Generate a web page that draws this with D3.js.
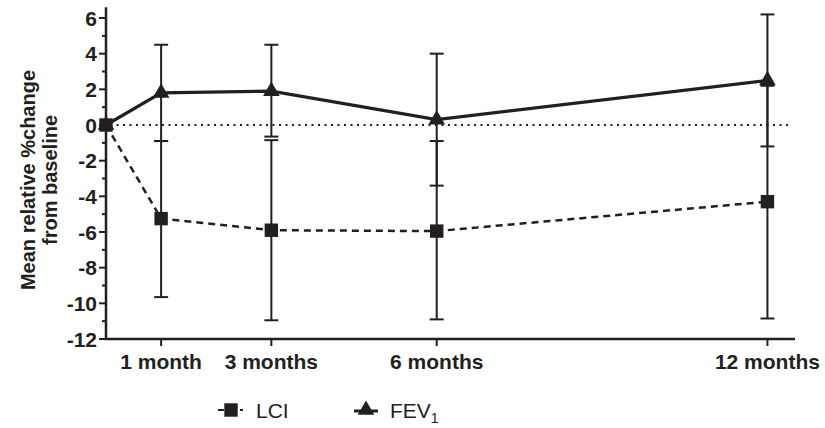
<!DOCTYPE html>
<html>
<head>
<meta charset="utf-8">
<script src="https://cdn.jsdelivr.net/npm/d3@7"></script>
<style>
  body { margin: 0; background: #fff; }
  text { font-family: "Liberation Sans", Arial, sans-serif; fill: #231f20; }
  .tickLabel { font-weight: bold; font-size: 21px; }
  .axisText { font-weight: bold; font-size: 20px; }
</style>
</head>
<body>
<div class="chart"></div>
<script>
var svgWidth = 825;
var svgHeight = 428;
var ink = "#231f20";

// months after baseline
var months = [0, 1, 3, 6, 12];
var monthLabels = ["", "1 month", "3 months", "6 months", "12 months"];

// LCI: mean, upper, lower
var lciMean  = [0, -5.25, -5.9, -5.95, -4.3];
var lciUpper = [null, -0.9, -0.85, -0.9, 2.2];
var lciLower = [null, -9.65, -10.95, -10.9, -10.85];

// FEV1: mean, upper, lower
var fevMean  = [0, 1.8, 1.9, 0.3, 2.5];
var fevUpper = [null, 4.5, 4.5, 4.0, 6.2];
var fevLower = [null, -0.9, -0.65, -3.4, -1.2];

var yTicks = [6, 4, 2, 0, -2, -4, -6, -8, -10, -12];
var yMinor = [5, 3, 1, -1, -3, -5, -7, -9, -11];

var svg = d3.select(".chart")
  .append("svg")
  .attr("width", svgWidth)
  .attr("height", svgHeight);

var x = d3.scaleLinear().domain([0, 12.5]).range([106, 795]);
var y = d3.scaleLinear().domain([-12, 6]).range([339, 18]);

// zero reference line (dotted)
svg.append("line")
  .attr("x1", x(0) + 4).attr("x2", x(12.4))
  .attr("y1", y(0)).attr("y2", y(0))
  .attr("stroke", ink).attr("stroke-width", 2)
  .attr("stroke-dasharray", "2,4.5");

// y axis
var yAxis = svg.append("g")
  .attr("transform", `translate(${x(0)},0)`);
yAxis.append("line")
  .attr("y1", y(6.6)).attr("y2", y(-12))
  .attr("stroke", ink).attr("stroke-width", 2.5);
yAxis.selectAll(".major").data(yTicks).enter().append("line")
  .attr("x1", -7).attr("x2", 0)
  .attr("y1", d => y(d)).attr("y2", d => y(d))
  .attr("stroke", ink).attr("stroke-width", 2);
yAxis.selectAll(".minor").data(yMinor).enter().append("line")
  .attr("x1", -4).attr("x2", 0)
  .attr("y1", d => y(d)).attr("y2", d => y(d))
  .attr("stroke", ink).attr("stroke-width", 2);
yAxis.selectAll(".tickLabel").data(yTicks).enter().append("text")
  .attr("class", "tickLabel")
  .attr("x", -9)
  .attr("y", d => y(d))
  .attr("dy", "0.36em")
  .attr("text-anchor", "end")
  .text(d => d);

// x axis
var xAxis = svg.append("g")
  .attr("transform", `translate(0,${y(-12)})`);
xAxis.append("line")
  .attr("x1", x(0) - 1.25).attr("x2", x(12.5))
  .attr("stroke", ink).attr("stroke-width", 2.5);
xAxis.selectAll(".tick").data(months.slice(1)).enter().append("line")
  .attr("x1", d => x(d)).attr("x2", d => x(d))
  .attr("y1", 0).attr("y2", 7)
  .attr("stroke", ink).attr("stroke-width", 2);
xAxis.selectAll(".tickLabel").data(months.slice(1)).enter().append("text")
  .attr("class", "tickLabel")
  .attr("x", d => x(d))
  .attr("y", 30)
  .attr("text-anchor", "middle")
  .text((d, i) => monthLabels[i + 1]);

// error bars
function errorBars(upper, lower) {
  var g = svg.append("g");
  months.forEach(function(m, i) {
    if (upper[i] == null) return;
    g.append("line")
      .attr("x1", x(m)).attr("x2", x(m))
      .attr("y1", y(upper[i])).attr("y2", y(lower[i]))
      .attr("stroke", ink).attr("stroke-width", 2);
    [upper[i], lower[i]].forEach(function(v) {
      g.append("line")
        .attr("x1", x(m) - 7).attr("x2", x(m) + 7)
        .attr("y1", y(v)).attr("y2", y(v))
        .attr("stroke", ink).attr("stroke-width", 2);
    });
  });
}
errorBars(lciUpper, lciLower);
errorBars(fevUpper, fevLower);

var line = d3.line()
  .x(d => x(d[0]))
  .y(d => y(d[1]));

// LCI dashed line
svg.append("path")
  .datum(months.map((m, i) => [m, lciMean[i]]))
  .attr("d", line)
  .attr("fill", "none")
  .attr("stroke", ink).attr("stroke-width", 2.5)
  .attr("stroke-dasharray", "7,5");

// FEV1 solid line
svg.append("path")
  .datum(months.map((m, i) => [m, fevMean[i]]))
  .attr("d", line)
  .attr("fill", "none")
  .attr("stroke", ink).attr("stroke-width", 3.2);

var square = d3.symbol().type(d3.symbolSquare).size(180);
var triangle = d3.symbol().type(d3.symbolTriangle).size(120);

svg.selectAll(".tri").data(months).enter().append("path")
  .attr("transform", (d, i) => `translate(${x(d)},${y(fevMean[i])})`)
  .attr("d", triangle)
  .attr("fill", ink);

svg.selectAll(".sq").data(months).enter().append("path")
  .attr("transform", (d, i) => `translate(${x(d)},${y(lciMean[i])})`)
  .attr("d", square)
  .attr("fill", ink);

// y axis title
var title = svg.append("text")
  .attr("class", "axisText")
  .attr("transform", "translate(35,180) rotate(-90)")
  .attr("text-anchor", "middle");
title.append("tspan").attr("x", 0).attr("y", 0).text("Mean relative %change");
title.append("tspan").attr("x", 0).attr("y", 22).text("from baseline");

// legend
var legend = svg.append("g");
legend.append("line")
  .attr("x1", 218).attr("x2", 224).attr("y1", 410).attr("y2", 410)
  .attr("stroke", ink).attr("stroke-width", 2);
legend.append("line")
  .attr("x1", 240).attr("x2", 243).attr("y1", 410).attr("y2", 410)
  .attr("stroke", ink).attr("stroke-width", 2);
legend.append("path")
  .attr("transform", "translate(231,410)")
  .attr("d", square).attr("fill", ink);
legend.append("text")
  .attr("x", 256).attr("y", 418)
  .attr("font-size", 21)
  .text("LCI");

legend.append("line")
  .attr("x1", 354).attr("x2", 378).attr("y1", 411).attr("y2", 411)
  .attr("stroke", ink).attr("stroke-width", 3);
legend.append("path")
  .attr("transform", "translate(366,410)")
  .attr("d", triangle).attr("fill", ink);
var fevText = legend.append("text")
  .attr("x", 390).attr("y", 418)
  .attr("font-size", 21);
fevText.append("tspan").text("FEV");
fevText.append("tspan").attr("font-size", 14).attr("dy", 5).text("1");
</script>
</body>
</html>
